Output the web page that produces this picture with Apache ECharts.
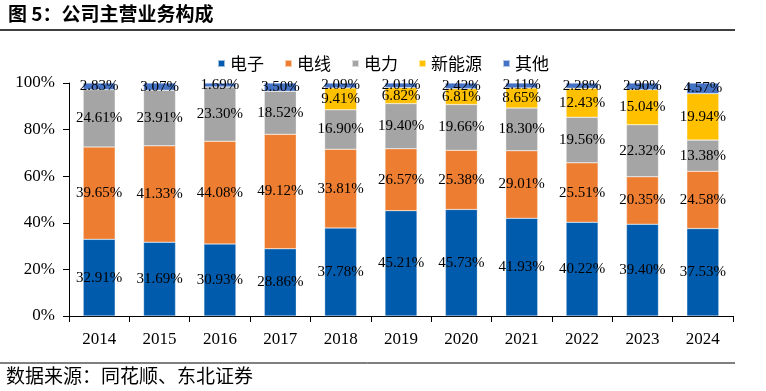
<!DOCTYPE html>
<html><head><meta charset="utf-8">
<script src="https://cdn.jsdelivr.net/npm/echarts@6/dist/echarts.min.js"></script>
<style>html,body{margin:0;padding:0;background:#fff}#c{width:766px;height:391px}</style>
</head><body><div id="c"></div>
<script>
const years = ['2014','2015','2016','2017','2018','2019','2020','2021','2022','2023','2024'];
const dianzi = [32.91, 31.69, 30.93, 28.86, 37.78, 45.21, 45.73, 41.93, 40.22, 39.40, 37.53];
const dianxian = [39.65, 41.33, 44.08, 49.12, 33.81, 26.57, 25.38, 29.01, 25.51, 20.35, 24.58];
const dianli = [24.61, 23.91, 23.30, 18.52, 16.90, 19.40, 19.66, 18.30, 19.56, 22.32, 13.38];
const xinnengyuan = [null, null, null, null, 9.41, 6.82, 6.81, 8.65, 12.43, 15.04, 19.94];
const qita = [2.83, 3.07, 1.69, 3.50, 2.09, 2.01, 2.42, 2.11, 2.28, 2.90, 4.57];
const yTicks = [0, 20, 40, 60, 80, 100];

const serif = '"Liberation Serif","Times New Roman",serif';
const cjk = '"Noto Sans CJK SC","Liberation Serif",serif';
function mk(name, data, color) {
  return {
    name, type: 'bar', stack: 'a', data, barWidth: 32,
    itemStyle: { color, borderColor: 'rgba(255,255,255,0.6)', borderWidth: 0.5 },
    label: { show: true, position: 'inside', color: '#000', fontFamily: serif, fontSize: 15,
      formatter: p => p.value == null ? '' : p.value.toFixed(2) + '%' }
  };
}
const chart = echarts.init(document.getElementById('c'));
chart.setOption({
  animation: false,
  grid: { left: 69, right: 33, top: 83, bottom: 75 },
  legend: {
    top: 50, left: 'center', itemWidth: 7, itemHeight: 7, itemGap: 20,
    icon: 'rect',
    textStyle: { fontFamily: cjk, fontSize: 17, color: '#000' },
    data: ['电子','电线','电力','新能源','其他']
  },
  xAxis: {
    type: 'category', data: years,
    axisLine: { lineStyle: { color: '#000', width: 1 } },
    axisTick: { show: true, length: 6, lineStyle: { color: '#000' } },
    axisLabel: { color: '#000', fontFamily: serif, fontSize: 17, margin: 15 }
  },
  yAxis: {
    type: 'value', min: 0, max: 100, interval: 20,
    axisLine: { show: true, lineStyle: { color: '#000' } },
    axisTick: { show: true, length: 6, lineStyle: { color: '#000' } },
    splitLine: { show: false },
    axisLabel: { color: '#000', fontFamily: serif, fontSize: 17, margin: 14,
      formatter: v => yTicks.includes(v) ? v + '%' : '' }
  },
  series: [
    mk('电子', dianzi, '#005BAC'),
    mk('电线', dianxian, '#ED7D31'),
    mk('电力', dianli, '#A5A5A5'),
    mk('新能源', xinnengyuan, '#FFC000'),
    mk('其他', qita, '#4472C4')
  ],
  graphic: [
    { type: 'text', left: 8, top: 4, style: { text: '图 5：公司主营业务构成', font: 'bold 19px "Noto Sans CJK SC"', fill: '#000' } },
    { type: 'line', shape: { x1: 0, y1: 30, x2: 735, y2: 30 }, style: { stroke: '#000', lineWidth: 1.5 } },
    { type: 'line', shape: { x1: 0, y1: 363, x2: 735, y2: 363 }, style: { stroke: '#000', lineWidth: 1 } },
    { type: 'text', left: 6, top: 366, style: { text: '数据来源：同花顺、东北证券', font: '19px "Noto Sans CJK SC"', fill: '#000' } }
  ]
});
</script></body></html>
